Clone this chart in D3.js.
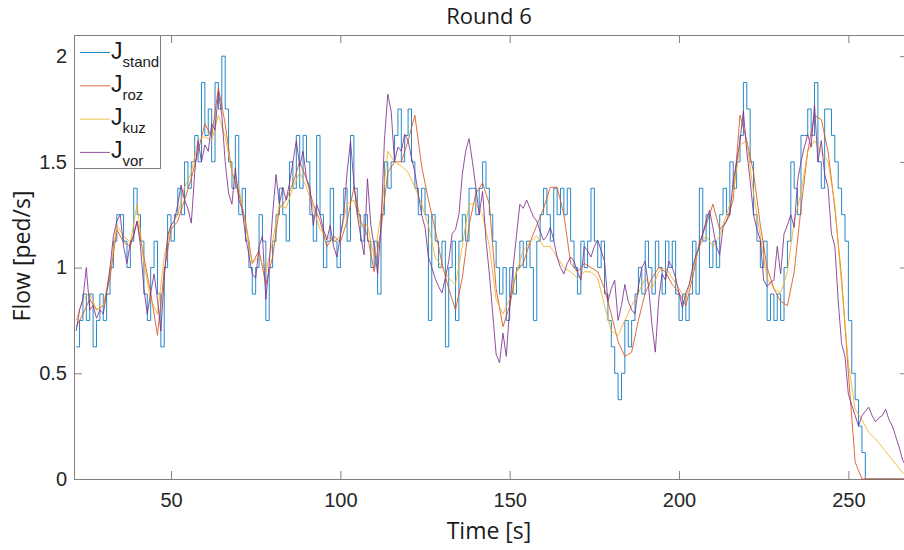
<!DOCTYPE html>
<html>
<head>
<meta charset="utf-8">
<script src="https://cdn.jsdelivr.net/npm/d3@7"></script>
<style>
  body { margin: 0; background: #fff; }
  .axis .domain, .axis line { stroke: #808080; }
  .axis text { fill: #262626; font-family: "Liberation Sans", Arial, sans-serif; font-size: 20px; }
  .lbl { fill: #1a1a1a; font-family: "Open Sans", sans-serif; }
</style>
</head>
<body>
<svg id="chart" width="904" height="550"></svg>
<script>
// J_stand and J_vor sampled every 1 s, J_roz and J_kuz every 2 s, from t = 22 s
const tStart = 22;

const stand = [
  0.625,0.75,0.875,0.75,0.875,0.625,0.75,0.875,0.75,0.875,   // 22
  1,1.125,1.25,1.25,1.125,1,1.125,1.375,1.25,1.125,           // 32
  0.875,0.75,1,1.125,0.875,0.625,1,1.25,1.125,1.25,           // 42
  1.375,1.25,1.5,1.375,1.5,1.625,1.5,1.875,1.625,1.75,        // 52
  1.5,1.875,1.75,2,1.75,1.5,1.375,1.625,1.25,1.375,           // 62
  1.125,1,0.875,1,1.25,1.125,0.75,1,1.125,1.25,               // 72
  1.375,1.25,1.125,1.5,1.375,1.625,1.375,1.625,1.5,1.25,      // 82
  1.125,1.625,1.25,1,1.125,1.375,1.125,1,1.25,1.375,          // 92
  1.125,1.625,1.375,1.25,1.125,1.25,1.125,1,1.125,0.875,      // 102
  1.25,1.5,1.375,1.5,1.625,1.75,1.5,1.625,1.75,1.5,           // 112
  1.375,1.25,1.375,1.25,0.75,1.25,1.125,1,1.125,0.625,        // 122
  1,1.125,0.75,1.125,1.25,1.125,1.375,1.375,1.25,1.375,       // 132
  1.5,1.375,1.25,1.125,1,0.875,1,0.75,1,0.875,                // 142
  1,1.125,1,1.125,1,0.75,1.125,1.25,1.375,1.25,               // 152
  1.125,1.375,1.25,1.375,1.25,1.375,1.125,1,0.875,1.125,      // 162
  1,1.125,1.375,1.125,1,1.125,0.875,0.75,0.625,0.5,           // 172
  0.375,0.5,0.75,0.625,0.75,0.875,1,0.875,1.125,1,            // 182
  0.875,1.125,1,0.875,1.125,1,1.125,0.875,0.75,0.875,         // 192
  0.75,0.875,1.125,0.875,1.375,1.125,1.25,1,1.125,1,          // 202
  1.25,1.375,1.25,1.5,1.375,1.5,1.625,1.875,1.75,1.5,         // 212
  1.25,1.125,1,1.125,0.75,0.875,0.75,0.875,0.75,1,            // 222
  1.125,1.5,1.375,1.25,1.625,1.625,1.75,1.625,1.875,1.5,      // 232
  1.375,1.75,1.75,1.625,1.5,1.375,1.25,1.125,0.75,0.5,        // 242
  0.375,0.25,0.125,0,0,0,0,0,0,0,                             // 252
  0,0,0,0,0,0                                                 // 262
];

const vor = [
  0.7,0.8,0.85,1,0.8,0.82,0.76,0.8,0.78,0.88,
  1,1.15,1.22,1.25,1.1,1.02,1.12,1.15,1.22,1.1,
  0.9,0.78,0.88,0.97,0.85,0.7,0.95,1.15,1.2,1.22,
  1.3,1.39,1.32,1.28,1.21,1.45,1.6,1.5,1.58,1.55,
  1.68,1.65,1.83,1.72,1.5,1.35,1.3,1.47,1.32,1.28,
  1.15,1.06,0.97,0.95,1.1,1.15,0.85,1.02,1.25,1.44,
  1.3,1.38,1.32,1.4,1.5,1.6,1.48,1.55,1.42,1.38,
  1.2,1.3,1.25,1.18,1.13,1.2,1.1,1.05,1.15,1.25,
  1.45,1.6,1.4,1.25,1.15,1.06,1.42,1.2,1.1,0.97,
  1.19,1.6,1.82,1.74,1.5,1.57,1.55,1.63,1.6,1.52,
  1.45,1.35,1.25,1.19,1.05,1,0.95,0.91,0.88,0.95,
  1.03,1.16,1.18,1.25,1.44,1.55,1.61,1.5,1.38,1.25,
  1.36,1.13,0.97,0.78,0.59,0.55,0.69,0.58,0.81,1,
  1.15,1.3,1.28,1.32,1.28,1.24,1.22,1.17,1.13,1.15,
  1.19,1.13,1.05,1,0.97,1.02,1.05,1.03,0.98,0.94,
  1.1,1.08,1.05,1.1,1.13,1.08,1.03,0.84,0.9,0.94,
  0.75,0.82,0.92,0.84,0.8,0.78,0.91,1,1.03,0.91,
  0.73,0.6,0.85,0.97,0.94,1.03,1,0.95,0.88,0.81,
  0.88,0.92,1,1.06,1.1,1.16,1.22,1.27,1.19,1.1,
  1.06,1.19,1.22,1.25,1.41,1.5,1.6,1.74,1.55,1.41,
  1.25,1.18,1.13,0.94,0.91,0.93,0.94,1.1,0.97,1.16,
  1.2,1.25,1.19,1.41,1.5,1.57,1.63,1.57,1.77,1.5,
  1.6,1.44,1.38,1.16,1.1,0.84,0.64,0.58,0.4,0.35,
  0.3,0.25,0.3,0.32,0.34,0.3,0.27,0.29,0.3,0.33,
  0.28,0.25,0.2,0.15,0.09,0.06
];

const roz = [
  0.72,0.78,0.85,0.8,0.82,0.95,1.18,1.12,1.1,1.22,     // 22..40
  1.05,0.88,0.68,0.98,1.18,1.22,1.32,1.42,1.55,1.68,   // 42..60
  1.62,1.85,1.68,1.45,1.35,1.22,1.02,1.08,0.92,1.05,   // 62..80
  1.28,1.32,1.4,1.5,1.42,1.3,1.22,1.1,1.15,1.12,       // 82..100
  1.22,1.38,1.22,1.15,0.98,1.18,1.45,1.5,1.5,1.6,      // 102..120
  1.72,1.48,1.32,1.18,1.02,0.9,0.8,0.95,1.2,1.35,      // 122..140
  1.4,1.3,0.9,0.72,0.82,0.98,1.02,1.12,1.2,1.28,       // 142..160
  1.38,1.38,1.25,1.02,0.98,1.02,1,0.98,0.9,0.78,       // 162..180
  0.65,0.58,0.6,0.75,0.88,0.95,1,0.98,0.92,0.88,       // 182..200
  0.82,0.95,1.12,1.2,1.3,1.18,1.22,1.32,1.72,1.6,      // 202..220
  1.45,1.2,1,0.9,0.84,0.82,0.98,1.28,1.55,1.72,        // 222..240
  1.7,1.55,1.28,0.95,0.5,0.08,0,0,0,0,                 // 242..260
  0,0,0,0                                              // 262..268
];

const kuz = [
  0.75,0.85,0.88,0.8,0.82,0.98,1.2,1.15,1.12,1.3,
  1.02,0.85,0.78,1.05,1.2,1.25,1.38,1.45,1.6,1.62,
  1.6,1.72,1.62,1.45,1.38,1.2,1.02,1.05,0.98,1.12,
  1.3,1.28,1.38,1.45,1.38,1.28,1.18,1.15,1.12,1.15,
  1.3,1.32,1.2,1.2,1.05,1.25,1.55,1.5,1.48,1.45,
  1.38,1.3,1.2,1.05,1,0.95,0.92,1.1,1.3,1.3,
  1.25,1.1,0.85,0.78,0.85,0.98,1.08,1.12,1.15,1.1,
  1.1,1.05,1,0.98,0.95,0.98,0.98,0.95,0.82,0.7,
  0.68,0.75,0.82,0.88,0.95,0.9,0.98,1,0.95,0.9,
  0.85,0.98,1.1,1.15,1.1,1.15,1.25,1.35,1.58,1.6,
  1.35,1.15,0.95,0.9,0.88,0.98,1.22,1.35,1.55,1.6,
  1.55,1.5,1.3,0.92,0.55,0.33,0.28,0.22,0.19,0.15,
  0.11,0.07,0.03,0.01
];

const xTicks = [50, 100, 150, 200, 250];
const yTicks = [0, 0.5, 1, 1.5, 2];
const names = ["stand", "roz", "kuz", "vor"];
const colors = ["#0072BD", "#D95319", "#EDB120", "#7E2F8E"];

const svg = d3.select("#chart");
const x = d3.scaleLinear().domain([21.36, 267.6]).range([74, 908]);
const y = d3.scaleLinear().domain([0, 2.1]).range([479, 35]);

const toPts = (vals, step) => vals.map((v, i) => [tStart + i * step, v]);
const series = [
  { name: "stand", pts: toPts(stand, 1), curve: d3.curveStepAfter },
  { name: "roz", pts: toPts(roz, 2), curve: d3.curveLinear },
  { name: "kuz", pts: toPts(kuz, 2), curve: d3.curveLinear },
  { name: "vor", pts: toPts(vor, 1), curve: d3.curveLinear }
];

// axes, MATLAB style box with inward ticks
svg.append("g").attr("class", "axis")
  .attr("transform", `translate(0,${y(0)})`)
  .call(d3.axisBottom(x).tickValues(xTicks).tickSize(-8).tickSizeOuter(0).tickPadding(14));
svg.append("g").attr("class", "axis")
  .attr("transform", `translate(0,${y.range()[1]})`)
  .call(d3.axisTop(x).tickValues(xTicks).tickSize(-8).tickSizeOuter(0).tickFormat(""));
svg.append("g").attr("class", "axis")
  .attr("transform", `translate(${x.range()[0]},0)`)
  .call(d3.axisLeft(y).tickValues(yTicks).tickSize(-8).tickSizeOuter(0).tickPadding(7).tickFormat(d3.format("")));
svg.append("g").attr("class", "axis")
  .attr("transform", `translate(${x.range()[1]},0)`)
  .call(d3.axisRight(y).tickValues(yTicks).tickSize(-8).tickSizeOuter(0).tickFormat(""));

svg.append("clipPath").attr("id", "clip")
  .append("rect").attr("x", 74).attr("y", 34).attr("width", 834).attr("height", 447);

const plot = svg.append("g").attr("clip-path", "url(#clip)");
series.forEach((s, i) => {
  const line = d3.line().x(d => x(d[0])).y(d => y(d[1])).curve(s.curve);
  plot.append("path")
    .datum(s.pts)
    .attr("fill", "none")
    .attr("stroke", colors[i])
    .attr("stroke-width", 0.85)
    .attr("d", line);
});

// titles
svg.append("text").attr("class", "lbl")
  .attr("x", 489).attr("y", 24).attr("text-anchor", "middle")
  .attr("font-size", 22).text("Round 6");
svg.append("text").attr("class", "lbl")
  .attr("x", 489).attr("y", 539).attr("text-anchor", "middle")
  .attr("font-size", 23).text("Time [s]");
svg.append("text").attr("class", "lbl")
  .attr("transform", "translate(30,256) rotate(-90)")
  .attr("text-anchor", "middle")
  .attr("font-size", 23).text("Flow [ped/s]");

// legend
const leg = svg.append("g");
leg.append("rect")
  .attr("x", 74.5).attr("y", 35.5).attr("width", 86).attr("height", 133)
  .attr("fill", "#fff").attr("stroke", "#808080");
names.forEach((n, i) => {
  const cy = 52.5 + i * 33.3;
  leg.append("line")
    .attr("x1", 80).attr("x2", 110).attr("y1", cy).attr("y2", cy)
    .attr("stroke", colors[i]).attr("stroke-width", 0.85);
  const t = leg.append("text")
    .attr("x", 111).attr("y", cy + 6)
    .attr("font-family", "'Liberation Sans', Arial, sans-serif")
    .attr("fill", "#1a1a1a");
  t.append("tspan").attr("font-size", 23).text("J");
  t.append("tspan").attr("font-size", 15).attr("dy", 8).text(n);
});
</script>
</body>
</html>
